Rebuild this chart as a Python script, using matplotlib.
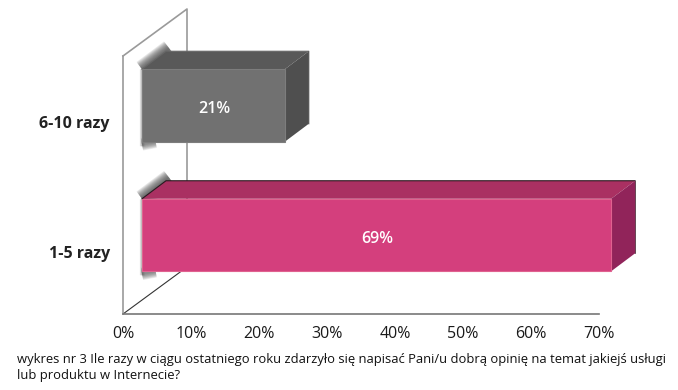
import matplotlib
matplotlib.use('Agg')
import matplotlib.pyplot as plt
from matplotlib.patches import Polygon

categories = ['1-5 razy', '6-10 razy']
values = [69, 21]
value_labels = ['69%', '21%']
xticks = [0, 10, 20, 30, 40, 50, 60, 70]
xtick_labels = ['0%', '10%', '20%', '30%', '40%', '50%', '60%', '70%']
caption = ('wykres nr 3 Ile razy w ciągu ostatniego roku zdarzyło się napisać Pani/u dobrą opinię na temat jakiejś usługi\n'
           'lub produktu w Internecie?')

front_cols = ['#d43f7d', '#717171']
edge_cols = ['#e0628f', '#7d7d7d']
top_cols = ['#aa3062', '#595959']
side_cols = ['#91245a', '#4f4f4f']
outline_cols = ['#2a1a20', '#666666']

W, H = 678, 390
X0, X70 = 123, 599
Y_FLOOR, Y_TOP = 314, 9
PX_X = (X70 - X0) / 70
PX_Y = 129.5

# 3d look, offsets in data units
start = 19 / PX_X
dx = 24 / PX_X
dy = 18 / PX_Y
wall_dx = 64 / PX_X
wall_dy = 47 / PX_Y
bar_h = 72.5 / PX_Y
label_shift = 17 / PX_Y

plt.rcParams['font.family'] = ['Open Sans', 'DejaVu Sans']

fig = plt.figure(figsize=(W / 100, H / 100), dpi=100)
ax = fig.add_axes([X0 / W, 1 - Y_FLOOR / H, (X70 - X0) / W, (Y_FLOOR - Y_TOP) / H])
ax.patch.set_visible(False)
ax.set_xlim(0, 70)
floor = -(Y_FLOOR - 235) / PX_Y
ax.set_ylim(floor, floor + (Y_FLOOR - Y_TOP) / PX_Y)
wall_top = floor + (Y_FLOOR - 56) / PX_Y

for s in ['top', 'right']:
    ax.spines[s].set_visible(False)
ax.spines['left'].set_bounds(floor, wall_top)
ax.spines['left'].set_color('#9a9a9a')
ax.spines['left'].set_linewidth(1.2)
ax.spines['bottom'].set_color('#777777')
ax.spines['bottom'].set_linewidth(1.2)

# wall and floor lines
ax.plot([0, wall_dx, wall_dx], [wall_top, wall_top + wall_dy, floor + wall_dy],
        color='#9a9a9a', lw=1.2, clip_on=False, zorder=1)
ax.plot([0, wall_dx], [floor, floor + wall_dy], color='#333333', lw=0.8, zorder=1)

for i, val in enumerate(values):
    low, high = i - bar_h / 2, i + bar_h / 2
    end = start + val

    # soft shadow on the wall, centred on the edge so the bar hides half of it
    for k in range(10):
        lw = 13 - k * 1.25
        ax.plot([start, start + dx + 0.5], [high, high + dy + 0.02], color='#444444', alpha=0.13, lw=lw,
                solid_capstyle='butt', zorder=2, clip_on=False)
        ax.plot([start, start], [low - 0.03, high], color='#555555', alpha=0.05, lw=lw * 0.3, zorder=2,
                solid_capstyle='butt')
        ax.plot([start, start + 2.0], [low - 0.02, low], color='#555555', alpha=0.10, lw=lw * 0.7,
                solid_capstyle='butt', zorder=2)

    ax.barh(i, val, height=bar_h, left=start, color=front_cols[i], edgecolor=edge_cols[i], linewidth=0.8, zorder=4,
            clip_on=False)
    top = Polygon([(start, high), (start + dx, high + dy), (end + dx, high + dy), (end, high)],
                  closed=True, facecolor=top_cols[i], edgecolor='none', zorder=3, clip_on=False)
    ax.add_patch(top)
    ax.plot([start, start + dx, end + dx, end + dx], [high, high + dy, high + dy, low + dy],
            color=outline_cols[i], lw=0.8, zorder=3, clip_on=False)
    side = Polygon([(end, low), (end + dx, low + dy), (end + dx, high + dy), (end, high)],
                   closed=True, facecolor=side_cols[i], edgecolor='none', zorder=3, clip_on=False)
    ax.add_patch(side)
    ax.text(start + val / 2 + 0.1, i - 0.03, value_labels[i], color='white', fontsize=11.5, fontweight='semibold',
            ha='center', va='center', zorder=5)

ax.set_xticks(xticks)
ax.set_xticklabels(xtick_labels, fontsize=11.5, color='#1a1a1a')
ax.set_yticks([0 - label_shift, 1 - label_shift])
ax.set_yticklabels(categories, fontsize=11.5, fontweight='bold', color='#222222')
ax.tick_params(axis='both', length=0)
ax.tick_params(axis='x', pad=9)
ax.tick_params(axis='y', pad=9.5)

fig.text(17 / W, 1 - 353 / H, caption, fontsize=9.36, color='#111111', ha='left', va='top', linespacing=1.35)

fig.savefig('out.png', dpi=100)
